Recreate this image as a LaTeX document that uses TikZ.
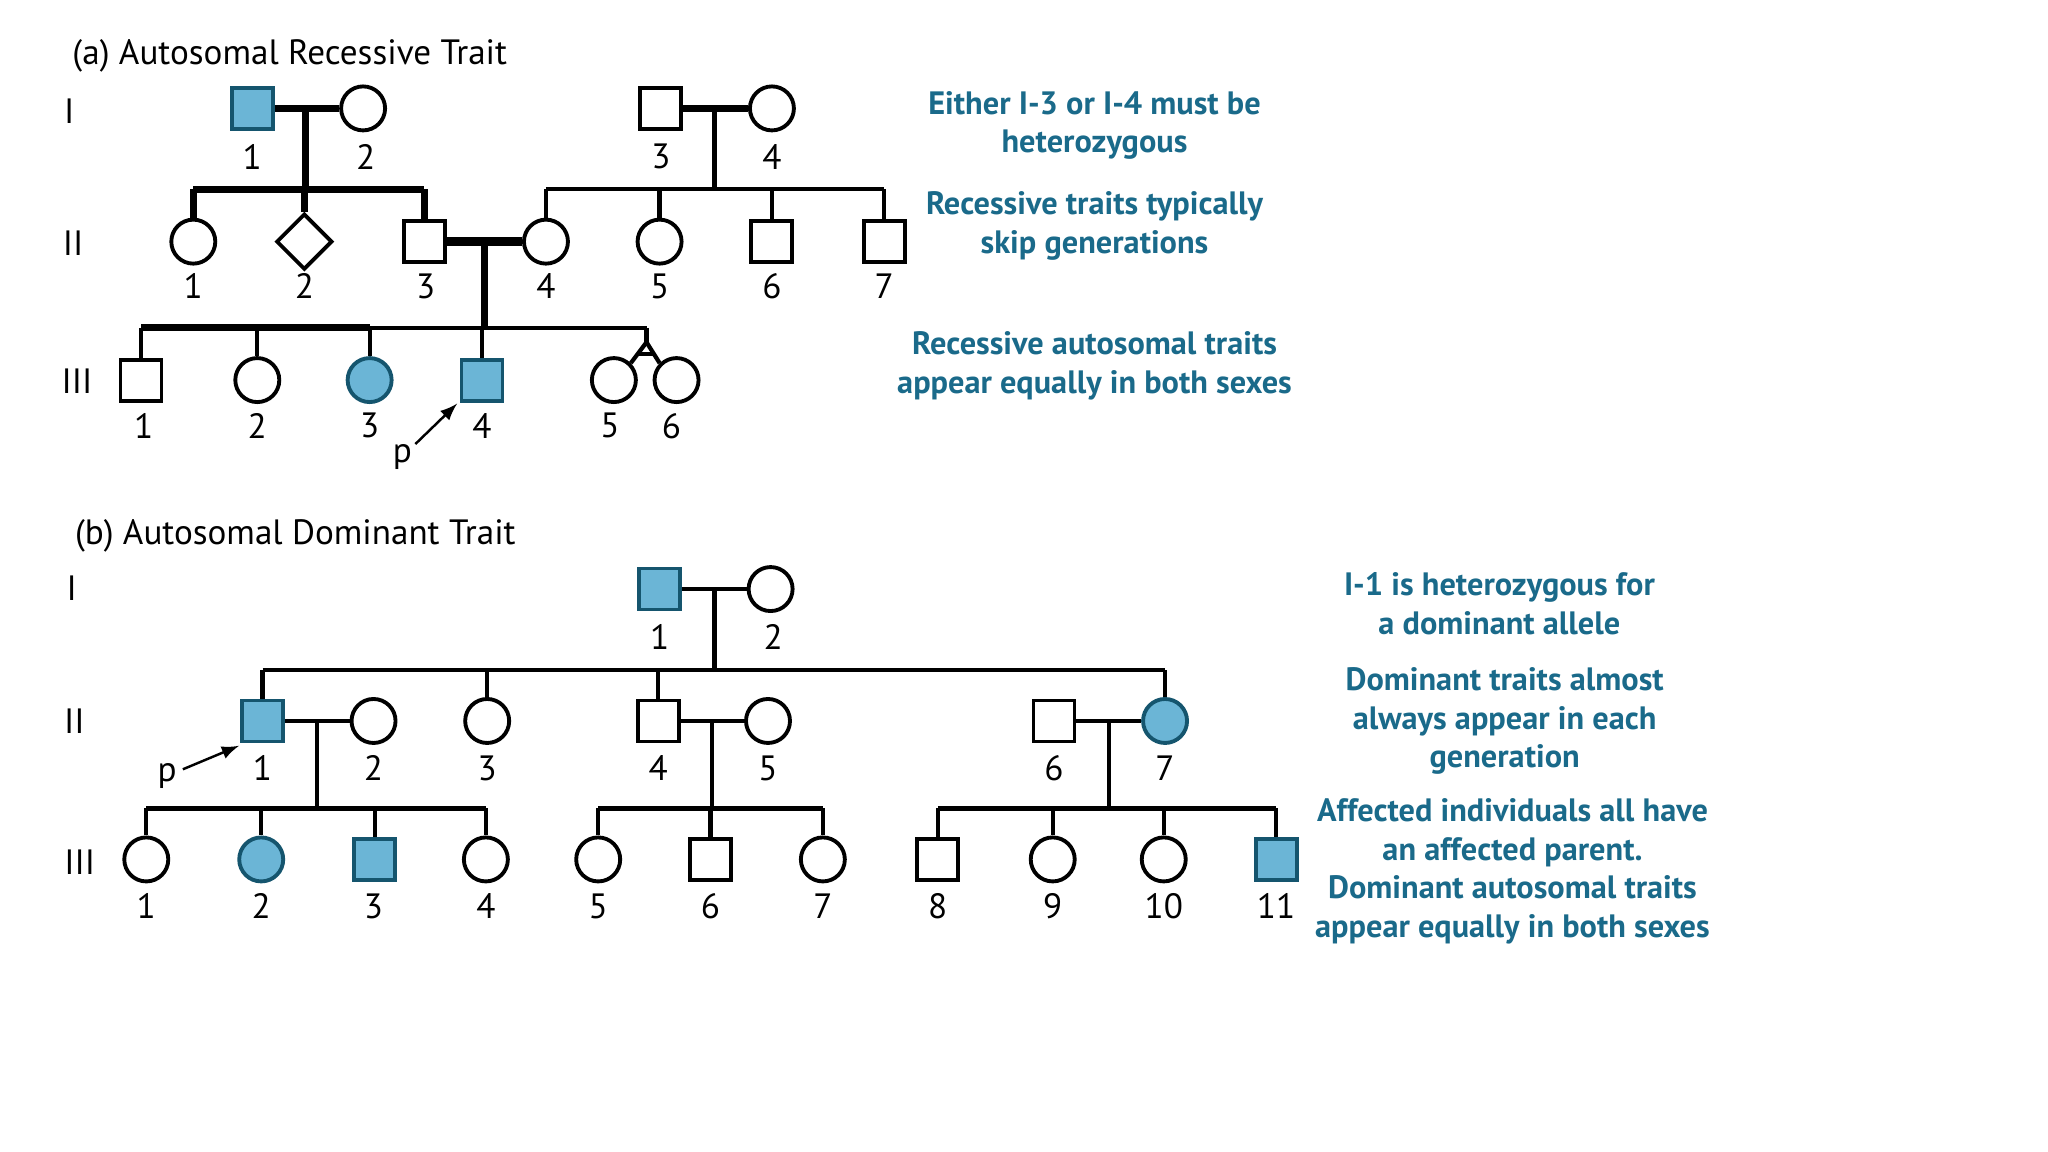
\documentclass[tikz,border=0pt]{standalone}
\usepackage{fontspec}
\setmainfont{PT Sans}
\usetikzlibrary{shapes.geometric,calc}
\definecolor{aff}{HTML}{6BB5D6}
\definecolor{txtb}{HTML}{1A6A8A}
\begin{document}
\begin{tikzpicture}[x=0.013061cm,y=-0.013061cm,
  m/.style={draw,line width=1.1pt,minimum size=0.41cm,inner sep=0pt},
  f/.style={draw,circle,line width=1.1pt,minimum size=0.44cm,inner sep=0pt},
  u/.style={draw,diamond,line width=1.1pt,minimum size=0.56cm,inner sep=0pt},
  af/.style={fill=aff,draw=txtb!80!black},
  lab/.style={font=\fontsize{10}{12}\selectfont},
  ttl/.style={font=\fontsize{10}{12}\selectfont,anchor=west},
  note/.style={font=\bfseries\fontsize{9.2}{11}\selectfont,text=txtb,align=center},
  ln/.style={line width=1.2pt},
  tk/.style={line width=2pt}]
\useasboundingbox[fill=white] (0,0) rectangle (1568,882);
% ---------- (a)
\node[ttl] (ta) at (46,43) {(a) Autosomal Recessive Trait};
\node[lab] (ga1) at (53,85) {I};
\node[lab] (ga2) at (56,186) {II};
\node[lab] (ga3) at (59,292) {III};
\node[m,af] (a11) at (193,83) {}; \node[f] (a12) at (278,83) {};
\node[m] (a13) at (506,83) {}; \node[f] (a14) at (591,83) {};
\node[lab] at (193,120) {1}; \node[lab] at (280,120) {2};
\node[lab] at (506,120) {3}; \node[lab] at (591,120) {4};
\node[f] (a21) at (148,185) {}; \node[u] (a22) at (233,185) {};
\node[m] (a23) at (325,185) {}; \node[f] (a24) at (418,185) {};
\node[f] (a25) at (505,185) {}; \node[m] (a26) at (591,185) {};
\node[m] (a27) at (677,185) {};
\foreach \x/\n in {148/1,233/2,326/3,418/4,505/5,591/6,677/7}{\node[lab] at (\x,219) {\n};}
\node[m] (a31) at (108,291) {}; \node[f] (a32) at (197,291) {};
\node[f,af] (a33) at (283,291) {}; \node[m,af] (a34) at (369,291) {};
\node[f] (a35) at (470,291) {}; \node[f] (a36) at (518,291) {};
\foreach \x/\n in {110/1,197/2,283/3,369/4,467/5,514/6}{\node[lab] at (\x,326) {\n};}
% connectors (a)
\coordinate (ma1) at (234,83); \coordinate (sa1) at (234,145);
\draw[tk] (a11) -- (a12); \draw[tk] (ma1) -- (sa1);
\draw[tk] (a21 |- sa1) -- (a23 |- sa1);
\foreach \n in {a21,a22,a23}{\draw[tk] (\n |- sa1) -- (\n.north);}
\coordinate (ma2) at (547,83); \coordinate (sa2) at (547,145);
\draw[tk] (a13) -- (a14); \draw[ln] (ma2) -- (sa2);
\draw[ln] (a24 |- sa2) -- (a27 |- sa2);
\foreach \n in {a24,a25,a26,a27}{\draw[ln] (\n |- sa2) -- (\n.north);}
\coordinate (ma3) at (371,185); \coordinate (sa3) at (371,251);
\draw[line width=2.6pt] (a23) -- (a24); \draw[tk] (ma3) -- (sa3);
\coordinate (tw) at (495,251); \coordinate (ap) at (495,262);
\draw[tk] (a31 |- sa3) -- (a33 |- sa3); \draw[ln] (a33 |- sa3) -- (tw);
\foreach \n in {a31,a32,a33,a34}{\draw[ln] (\n |- sa3) -- (\n.north);}
\draw[ln] (tw) -- (ap);
\draw[ln] (ap) -- (a35.north east); \draw[ln] (ap) -- (a36.north west);
\draw[ln] ($(ap)!0.55!(a35.north east)$) -- ($(ap)!0.55!(a36.north west)$);
\node[lab] (pa) at (308,350) {p};
\draw[line width=0.7pt,-latex] (318,340) -- (350,309);
\node[note] at (838,96) {Either I-3 or I-4 must be\\heterozygous};
\node[note] at (838,173) {Recessive traits typically\\skip generations};
\node[note] at (838,280) {Recessive autosomal traits\\appear equally in both sexes};
% ---------- (b)
\node[ttl] (tb) at (48,410) {(b) Autosomal Dominant Trait};
\node[lab] (gb1) at (55,450) {I};
\node[lab] (gb2) at (57,552) {II};
\node[lab] (gb3) at (61,660) {III};
\node[m,af] (b11) at (505,451) {}; \node[f] (b12) at (590,451) {};
\node[lab] at (505,488) {1}; \node[lab] at (592,488) {2};
\node[m,af] (b21) at (201,552) {}; \node[f] (b22) at (286,552) {};
\node[f] (b23) at (373,552) {}; \node[m] (b24) at (504,552) {};
\node[f] (b25) at (588,552) {}; \node[m] (b26) at (807,552) {};
\node[f,af] (b27) at (892,552) {};
\foreach \x/\n in {201/1,286/2,373/3,504/4,588/5,807/6,892/7}{\node[lab] at (\x,588) {\n};}
\node[f] (b31) at (112,658) {}; \node[f,af] (b32) at (200,658) {};
\node[m,af] (b33) at (287,658) {}; \node[f] (b34) at (372,658) {};
\node[f] (b35) at (458,658) {}; \node[m] (b36) at (544,658) {};
\node[f] (b37) at (630,658) {}; \node[m] (b38) at (718,658) {};
\node[f] (b39) at (806,658) {}; \node[f] (b310) at (891,658) {};
\node[m,af] (b311) at (977,658) {};
\foreach \x/\n in {112/1,200/2,286/3,372/4,458/5,544/6,630/7,718/8,806/9,891/10,977/11}{\node[lab] at (\x,694) {\n};}
% connectors (b)
\coordinate (mb1) at (547,451); \coordinate (sb1) at (547,513);
\draw[ln] (b11) -- (b12); \draw[ln] (mb1) -- (sb1);
\draw[ln] (b21 |- sb1) -- (b27 |- sb1);
\foreach \n in {b21,b23,b24,b27}{\draw[ln] (\n |- sb1) -- (\n.north);}
\coordinate (mb2) at (243,552); \coordinate (sb2) at (243,619);
\draw[ln] (b21) -- (b22); \draw[ln] (mb2) -- (sb2);
\draw[ln] (b31 |- sb2) -- (b34 |- sb2);
\foreach \n in {b31,b32,b33,b34}{\draw[ln] (\n |- sb2) -- (\n.north);}
\coordinate (mb3) at (545,552); \coordinate (sb3) at (545,619);
\draw[ln] (b24) -- (b25); \draw[ln] (mb3) -- (sb3);
\draw[ln] (b35 |- sb3) -- (b37 |- sb3);
\foreach \n in {b35,b36,b37}{\draw[ln] (\n |- sb3) -- (\n.north);}
\coordinate (mb4) at (849,552); \coordinate (sb4) at (849,619);
\draw[ln] (b26) -- (b27); \draw[ln] (mb4) -- (sb4);
\draw[ln] (b38 |- sb4) -- (b311 |- sb4);
\foreach \n in {b38,b39,b310,b311}{\draw[ln] (\n |- sb4) -- (\n.north);}
\node[lab] (pb) at (128,594) {p};
\draw[line width=0.7pt,-latex] (140,589) -- (183,571);
\node[note] at (1148,462) {I-1 is heterozygous for\\a dominant allele};
\node[note] at (1152,552) {Dominant traits almost\\always appear in each\\generation};
\node[note] at (1158,667) {Affected individuals all have\\an affected parent.\\Dominant autosomal traits\\appear equally in both sexes};
\end{tikzpicture}
\end{document}
